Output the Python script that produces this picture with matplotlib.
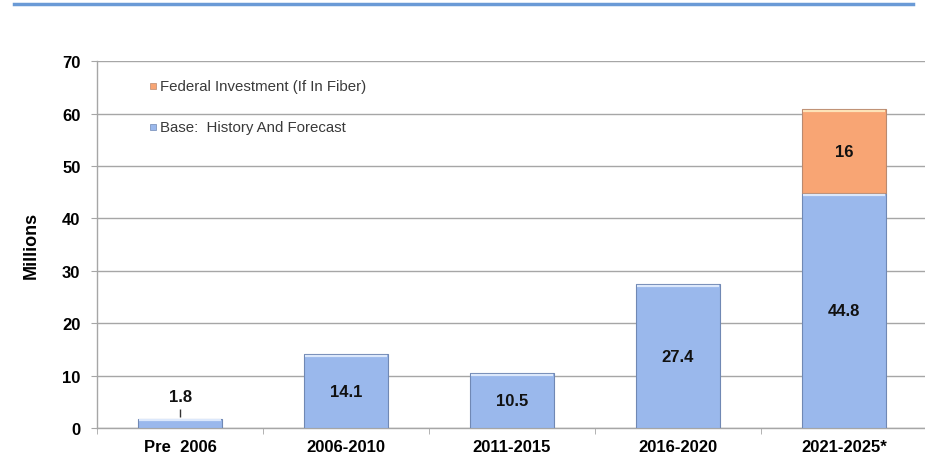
import matplotlib.pyplot as plt
import numpy as np

# --------------------------- DATA ---------------------------

categories = ['Pre  2006', '2006-2010', '2011-2015', '2016-2020', '2021-2025*']
base = [1.8, 14.1, 10.5, 27.4, 44.8]
federal = [0, 0, 0, 0, 16]
y_ticks = [0, 10, 20, 30, 40, 50, 60, 70]

BLUE = '#9ab8ec'
BLUE_EDGE = '#7088b4'
BLUE_TOP = '#dce8fb'
ORANGE = '#f8a574'
ORANGE_EDGE = '#b98a70'
ORANGE_TOP = '#fde3b8'
GRID = '#a6a6a6'

plt.rcParams['font.family'] = ['Liberation Sans', 'DejaVu Sans']

# --------------------------- PLOT ---------------------------

fig = plt.figure(figsize=(9.25, 4.6), dpi=100)
ax = fig.add_axes([0.105, 0.0674, 0.897, 0.7976])

x = np.arange(len(categories))
width = 0.51

ax.bar(x, base, width, color=BLUE, edgecolor=BLUE_EDGE, linewidth=0.8, zorder=3)
fed = np.array(federal)
mask = fed > 0
ax.bar(x[mask], fed[mask], width, bottom=np.array(base)[mask],
       color=ORANGE, edgecolor=ORANGE_EDGE, linewidth=0.8, zorder=3)

# light highlight along the top of each bar
tops = np.array(base) + fed
for i, (b, t) in enumerate(zip(base, tops)):
    col = ORANGE_TOP if fed[i] > 0 else BLUE_TOP
    ax.hlines(t - 0.3, i - width / 2 + 0.01, i + width / 2 - 0.01,
              color=col, linewidth=1.6, zorder=4)
    if fed[i] > 0:
        ax.hlines(b - 0.3, i - width / 2 + 0.01, i + width / 2 - 0.01,
                  color=BLUE_TOP, linewidth=1.6, zorder=4)

# value labels
for i, v in enumerate(base):
    if v < 5:
        ax.vlines(i, v + 0.3, v + 1.9, color='#333333', linewidth=1.0, zorder=5)
        ax.text(i, v + 4.3, f"{v}", ha='center', va='center', fontsize=12,
                fontweight='bold', color='#111111', zorder=5)
    else:
        ax.text(i, v / 2, f"{v}", ha='center', va='center', fontsize=12,
                fontweight='bold', color='#111111', zorder=5)
for i, v in enumerate(federal):
    if v > 0:
        ax.text(i, base[i] + v / 2, f"{v}", ha='center', va='center',
                fontsize=12, fontweight='bold', color='#111111', zorder=5)

# axes styling
ax.set_xlim(-0.5, len(categories) - 0.5)
ax.set_ylim(0, 70)
ax.set_yticks(y_ticks)
ax.set_yticklabels([str(t) for t in y_ticks], fontsize=12, fontweight='bold')
ax.set_xticks(x)
ax.set_xticklabels(categories, fontsize=12, fontweight='bold')
ax.tick_params(axis='x', length=0, pad=8)
ax.set_xticks(np.arange(len(categories) + 1) - 0.5, minor=True)
ax.tick_params(axis='x', which='minor', length=4, color=GRID, direction='out')
ax.tick_params(axis='y', length=4, color=GRID, pad=8)
ax.yaxis.grid(True, color=GRID, linewidth=1.0, zorder=0)
ax.set_axisbelow(True)
for s in ['top', 'right']:
    ax.spines[s].set_visible(False)
ax.spines['left'].set_color(GRID)
ax.spines['bottom'].set_color(GRID)
ax.spines['left'].set_linewidth(1.0)
ax.spines['bottom'].set_linewidth(1.0)
ax.set_ylabel('Millions', fontsize=13, fontweight='bold', labelpad=16)

# legend drawn as marker + text between grid lines
ax.plot(-0.165, 65.3, 's', ms=5, color=ORANGE, mec=ORANGE_EDGE, mew=0.5,
        clip_on=False, zorder=5)
ax.text(-0.12, 65.3, 'Federal Investment (If In Fiber)', fontsize=10.8,
        va='center', ha='left', color='#3a3a3a')
ax.plot(-0.165, 57.4, 's', ms=5, color=BLUE, mec=BLUE_EDGE, mew=0.5,
        clip_on=False, zorder=5)
ax.text(-0.12, 57.4, 'Base:  History And Forecast', fontsize=10.8,
        va='center', ha='left', color='#3a3a3a')

# blue rule across the top of the slide
fig.add_artist(plt.Line2D([0.015, 0.987], [0.989, 0.989], color='#6a9ad6',
                          linewidth=2.5, transform=fig.transFigure))

fig.savefig('out.png', dpi=100, facecolor='white')
